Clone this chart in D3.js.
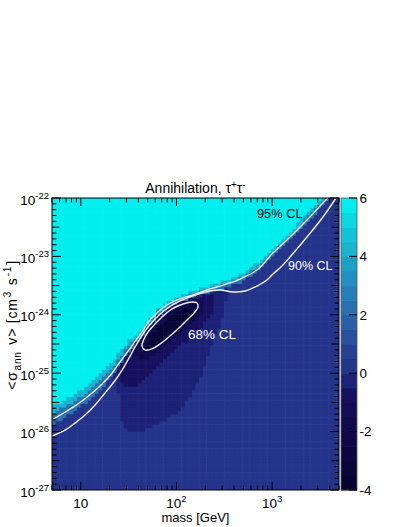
<!DOCTYPE html>
<html><head><meta charset="utf-8">
<script src="https://cdn.jsdelivr.net/npm/d3@7"></script>
<style>
body{margin:0;background:#fff;}
text{font-family:"Liberation Sans",Arial,Helvetica,sans-serif;fill:#000;}
</style></head><body>
<svg id="c" width="407" height="527"></svg>
<script>
// ---------- data ----------
const massDomain = [5, 5000];            // GeV
const sigmaDomain = [1e-27, 1e-22];      // cm^3 s^-1
const zDomain = [-4, 6];
const zTicks = [-4, -2, 0, 2, 4, 6];
const xTickLabels = [{v:10, b:"10", e:""}, {v:100, b:"10", e:"2"}, {v:1000, b:"10", e:"3"}];
const yTickExps = [-27, -26, -25, -24, -23, -22];
// palette, bottom (-4) to top (6), 20 levels of 0.5
const palette = ["#060530","#080637","#0a073e","#0c0945","#0f0b4d","#120d55","#16105e","#1d2177",
  "#25348b","#274092","#29509c","#2a60a6","#2970ae","#2680b6","#2290be","#1ea0c6",
  "#19b2cf","#12c4d9","#0ad8e4","#00eeee"];
const nMassBins = 80, nSigmaBins = 85;
const bgValue = 0.3;
// level edges: above each edge the value is at least the given level
const cyanEdge = [[5.00,2.74e-26],[6.06,3.09e-26],[8.09,4.07e-26],[9.81,4.95e-26],[12.48,6.79e-26],[15.88,9.31e-26],[20.2,1.44e-25],[25.69,2.40e-25],[31.15,3.56e-25],[35.13,4.17e-25],[43.63,5.71e-25],[52.89,8.81e-25],[62.61,1.21e-24],[77.73,1.59e-24],[96.54,1.94e-24],[138.5,2.46e-24],[208.5,2.99e-24],[306.6,3.65e-24],[461.5,4.81e-24],[587.2,6.33e-24],[695.1,7.71e-24],[1021,1.39e-23],[1538,2.62e-23],[1956,4.04e-23],[2315,5.53e-23],[2944,8.2e-23],[3321,1e-22]];
const midEdge = [[5.0,2.0e-26],[8.09,3.09e-26],[13.10,5.36e-26],[21.20,1.18e-25],[31.15,2.81e-25],[43.63,4.88e-25],[62.61,1.07e-24],[96.54,1.72e-24],[138.5,2.18e-24],[208.5,2.66e-24],[306.6,3.24e-24],[461.5,4.27e-24],[695.1,6.58e-24],[1021,1.19e-23],[1538,2.24e-23],[2315,4.54e-23],[3402,8.88e-23],[3657,1e-22]];
const lowEdge = [[5.0,1.25e-26],[8.09,2.08e-26],[13.10,3.76e-26],[21.20,8.61e-26],[31.15,2.22e-25],[43.63,4.17e-25],[62.61,9.16e-25],[96.54,1.53e-24],[138.5,1.94e-24],[208.5,2.36e-24],[306.6,2.77e-24],[461.5,3.51e-24],[695.1,5.40e-24],[1021,9.77e-24],[1538,1.83e-23],[2315,3.73e-23],[3402,7.30e-23],[4026,1e-22]];
const cyanValue = 6.5, midValue = 4.3, lowValue = 2.2;
// low-TS islands (closed outlines)
const coreRegion = [[46.91,3.04e-25],[64.13,6.43e-25],[108.9,1.21e-24],[156.2,1.47e-24],[145.3,1.03e-24],[96.54,5.95e-25],[64.13,3.42e-25],[50.4,2.6e-25]];
const dark3Region = [[35.13,2.31e-25],[43.63,5.07e-25],[67.29,1.03e-24],[122.8,1.72e-24],[189.4,1.79e-24],[189.4,1.12e-24],[138.5,6.68e-25],[85.6,3.42e-25],[59.67,2.05e-25],[43.63,1.56e-25]];
const dark2Region = [[24.48,1.05e-25],[31.15,3.04e-25],[46.91,7.53e-25],[85.6,1.53e-24],[176.2,2.10e-24],[252.9,2.18e-24],[246.9,1.21e-24],[184.9,6.43e-25],[122.8,3.42e-25],[81.56,1.82e-25],[55.5,1.05e-25],[41.58,6.53e-26],[32.68,5.58e-26],[26.96,6.53e-26]];
const dark1Region = [[20.2,1.68e-25],[28.98,5.5e-25],[67.29,1.79e-24],[176.2,2.66e-24],[345.7,2.88e-24],[329.5,1.79e-24],[299.2,8.15e-25],[235.2,3.04e-25],[189.4,1.13e-25],[156.2,5.15e-26],[108.9,2.34e-26],[67.29,1.35e-26],[41.58,9.84e-27],[30.41,1.06e-26],[26.32,1.58e-26],[25.08,4.24e-26]];
const coreValue = -3.2, dark3Value = -1.7, dark2Value = -0.8, dark1Value = -0.3;
// confidence contours
const cl95 = [[5.0,1.58e-26],[6.36,2.0e-26],[8.09,2.54e-26],[10.3,3.34e-26],[13.1,4.58e-26],[16.7,6.53e-26],[21.2,1.0e-25],[25.7,1.56e-25],[31.9,2.5e-25],[37.8,3.7e-25],[43.6,5.07e-25],[52.8,8.15e-25],[62.6,1.07e-24],[79.6,1.47e-24],[108.9,1.87e-24],[149,2.18e-24],[208,2.66e-24],[265,2.99e-24],[363,3.51e-24],[461,4.10e-24],[695,5.85e-24],[1020,1.14e-23],[1538,2.15e-23],[2313,4.2e-23],[3398,8.2e-23],[3835,1e-22]];
const cl90 = [[5.0,8.41e-27],[6.84,1.06e-26],[8.70,1.40e-26],[11.07,1.92e-26],[14.1,2.85e-26],[17.9,4.58e-26],[22.2,7.07e-26],[27.0,1.13e-25],[31.9,1.82e-25],[36.9,2.81e-25],[46.9,5.28e-25],[59.7,8.48e-25],[75.9,1.21e-24],[103.7,1.66e-24],[138,2.02e-24],[199,2.46e-24],[285,2.66e-24],[390,2.46e-24],[520,2.56e-24],[695,3.11e-24],[884,3.95e-24],[1020,5.0e-24],[1268,6.85e-24],[1538,9.77e-24],[2313,2.15e-23],[3398,4.73e-23],[4645,1e-22]];
const cl68 = [[43.6,2.92e-25],[45.8,3.85e-25],[50.4,5.07e-25],[59.7,6.95e-25],[70.6,9.16e-25],[89.8,1.26e-24],[117,1.53e-24],[145.3,1.66e-24],[164,1.59e-24],[168,1.36e-24],[152.5,1.07e-24],[128.9,8.15e-25],[108.9,6.18e-25],[85.5,4.34e-25],[67.3,3.16e-25],[55.5,2.6e-25],[46.9,2.5e-25]];
const clLabels = [
  {text:"95% CL", m:695, s:4.46e-23, color:"#0a0a14", size:12.8},
  {text:"90% CL", m:1465, s:5.74e-24, color:"#ffffff", size:12.5},
  {text:"68% CL", m:132, s:3.85e-25, color:"#ffffff", size:13.5}
];

// ---------- layout ----------
const svg = d3.select("#c");
const X0 = 52, X1 = 339, Y0 = 198, Y1 = 490;
const x = d3.scaleLog().domain(massDomain).range([X0, X1]);
const y = d3.scaleLog().domain(sigmaDomain).range([Y1, Y0]);
const color = d3.scaleQuantize().domain(zDomain).range(palette);
const L = Math.log10;

function toLog(pts){ return pts.map(p => [L(p[0]), L(p[1])]); }
function edgePoly(edge){
  const p = toLog(edge), f = p[0], l = p[p.length-1];
  return [[f[0]-0.3, f[1]], ...p, [l[0], -21.7], [f[0]-0.3, -21.7]];
}
const regions = [
  {poly: edgePoly(cyanEdge), v: cyanValue},
  {poly: edgePoly(midEdge), v: midValue},
  {poly: edgePoly(lowEdge), v: lowValue},
  {poly: toLog(coreRegion), v: coreValue},
  {poly: toLog(dark3Region), v: dark3Value},
  {poly: toLog(dark2Region), v: dark2Value},
  {poly: toLog(dark1Region), v: dark1Value}
];

// cells
const lm0 = L(massDomain[0]), lm1 = L(massDomain[1]);
const ls0 = L(sigmaDomain[0]), ls1 = L(sigmaDomain[1]);
const dm = (lm1 - lm0) / nMassBins, ds = (ls1 - ls0) / nSigmaBins;
const cells = [];
for (let i = 0; i < nMassBins; i++) {
  for (let j = 0; j < nSigmaBins; j++) {
    const a = lm0 + i*dm, b = ls0 + j*ds;
    const c = [a + dm/2, b + ds/2];
    let v = bgValue;
    for (const r of regions) { if (d3.polygonContains(r.poly, c)) { v = r.v; break; } }
    cells.push({m0: Math.pow(10,a), m1: Math.pow(10,a+dm), s0: Math.pow(10,b), s1: Math.pow(10,b+ds), v});
  }
}
svg.append("clipPath").attr("id","pc").append("rect")
  .attr("x", X0).attr("y", Y0).attr("width", X1-X0).attr("height", Y1-Y0);
svg.append("g").attr("clip-path","url(#pc)").selectAll("rect").data(cells).join("rect")
  .attr("x", d => x(d.m0)).attr("width", d => x(d.m1) - x(d.m0) + 0.6)
  .attr("y", d => y(d.s1) - 0.6).attr("height", d => y(d.s0) - y(d.s1) + 0.6)
  .attr("fill", d => color(Math.min(d.v, 5.99)));

// contours
const line = d3.line().x(d => x(d[0])).y(d => y(d[1])).curve(d3.curveCatmullRom.alpha(0.5));
const lineC = d3.line().x(d => x(d[0])).y(d => y(d[1])).curve(d3.curveCatmullRomClosed.alpha(0.5));
const gl = svg.append("g").attr("clip-path","url(#pc)").attr("fill","none")
  .attr("stroke","#f2f2f6").attr("stroke-width",1.4);
gl.append("path").attr("d", line(cl95));
gl.append("path").attr("d", line(cl90));
gl.append("path").attr("d", lineC(cl68));

svg.append("g").selectAll("text").data(clLabels).join("text")
  .attr("x", d => x(d.m)).attr("y", d => y(d.s))
  .style("fill", d => d.color).attr("font-size", d => d.size).text(d => d.text);

// frame and ticks
const axg = svg.append("g").attr("stroke","#000").attr("stroke-width",1);
for (let k = -270; k <= -220; k++) {
  const yy = y(Math.pow(10, k/10));
  const len = (k % 10 === 0) ? 9 : ((k % 5 === 0) ? 7.5 : 4.5);
  axg.append("line").attr("x1", X0).attr("x2", X0+len).attr("y1", yy).attr("y2", yy);
  axg.append("line").attr("x1", X1).attr("x2", X1-len).attr("y1", yy).attr("y2", yy);
}
for (let dec = 0; dec <= 3; dec++) {
  for (let m = 1; m <= 9; m++) {
    const v = m * Math.pow(10, dec);
    if (v < massDomain[0] || v > massDomain[1]) continue;
    const xx = x(v), len = (m === 1) ? 8 : 4.5;
    axg.append("line").attr("x1", xx).attr("x2", xx).attr("y1", Y1).attr("y2", Y1-len);
    axg.append("line").attr("x1", xx).attr("x2", xx).attr("y1", Y0).attr("y2", Y0+len);
  }
}
svg.append("rect").attr("x", X0).attr("y", Y0).attr("width", X1-X0).attr("height", Y1-Y0)
  .attr("fill","none").attr("stroke","#000").attr("stroke-width",1);

// y tick labels
yTickExps.forEach(e => {
  const t = svg.append("text").attr("x", X0-3).attr("y", y(Math.pow(10,e)) + 6.5)
    .attr("text-anchor","end").attr("font-size",13.5);
  t.append("tspan").text("10");
  t.append("tspan").attr("font-size",9.5).attr("dy",-6).text(String(e));
});
// x tick labels
xTickLabels.forEach(d => {
  const t = svg.append("text").attr("x", x(d.v)).attr("y", 507.5)
    .attr("text-anchor","middle").attr("font-size",13.5);
  t.append("tspan").text(d.b);
  if (d.e) t.append("tspan").attr("font-size",9.5).attr("dy",-6).text(d.e);
});

// axis titles
svg.append("text").attr("x", (X0+X1)/2).attr("y", 521.5).attr("text-anchor","middle")
  .attr("font-size",13).text("mass [GeV]");
const yt = svg.append("text").attr("transform","translate(17,325) rotate(-90)")
  .attr("text-anchor","middle").attr("font-size",14).attr("letter-spacing",0.8);
yt.append("tspan").text("<σ");
yt.append("tspan").attr("font-size",10).attr("dx",1).attr("dy",3.5).text("ann");
yt.append("tspan").attr("dx",2).attr("dy",-3.5).text(" v>  [cm");
yt.append("tspan").attr("font-size",10).attr("dx",1).attr("dy",-6).text("3");
yt.append("tspan").attr("dx",1).attr("dy",6).text(" s");
yt.append("tspan").attr("font-size",10).attr("dx",1).attr("dy",-6).text("-1");
yt.append("tspan").attr("dx",1).attr("dy",6).text("]");

// title
const tt = svg.append("text").attr("x", 195.5).attr("y", 193).attr("text-anchor","middle").attr("font-size",14);
tt.append("tspan").text("Annihilation, τ");
tt.append("tspan").attr("font-size",10).attr("dy",-5.5).text("+");
tt.append("tspan").attr("dy",5.5).text("τ");
tt.append("tspan").attr("font-size",10).attr("dy",-5.5).text("-");

// colour bar
const zc = d3.scaleLinear().domain(zDomain).range([Y1, Y0]);
const CB0 = 341, CB1 = 357;
const bw = (zDomain[1]-zDomain[0])/palette.length;
const bands = d3.range(palette.length).map(i => zDomain[0] + i*bw);
svg.append("g").selectAll("rect").data(bands).join("rect")
  .attr("x", CB0).attr("width", CB1-CB0)
  .attr("y", d => zc(d + bw)).attr("height", d => zc(d) - zc(d + bw) + 0.6)
  .attr("fill", d => color(d + bw/2));
svg.append("rect").attr("x", CB0).attr("y", Y0).attr("width", CB1-CB0).attr("height", Y1-Y0)
  .attr("fill","none").attr("stroke","#555").attr("stroke-width",0.8);
zTicks.forEach(t => {
  svg.append("line").attr("x1", CB1).attr("x2", CB1-8).attr("y1", zc(t)).attr("y2", zc(t))
    .attr("stroke","#000").attr("stroke-width",1);
  svg.append("text").attr("x", CB1+2.5).attr("y", zc(t)+4.8).attr("font-size",13.5).text(String(t));
});
</script>
</body></html>
